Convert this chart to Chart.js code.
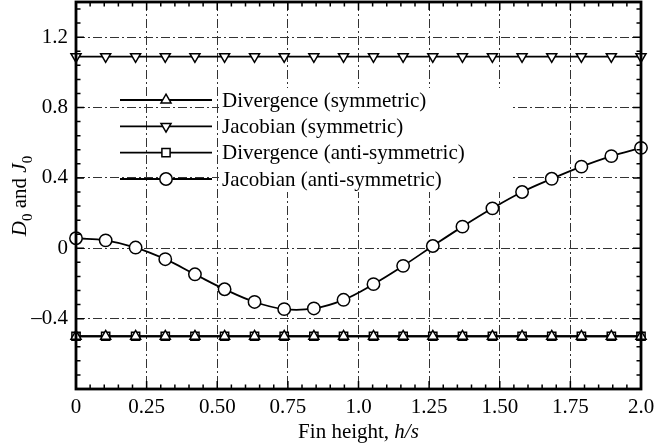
<!DOCTYPE html>
<html><head><meta charset="utf-8">
<script src="https://cdn.jsdelivr.net/npm/chart.js@4"></script>
<style>html,body{margin:0;padding:0;background:#fff}#wrap{width:656px;height:447px}</style>
</head><body><div id="wrap"><canvas id="c" width="656" height="447"></canvas></div>
<script>
const finHeight = [0, 0.105, 0.211, 0.316, 0.421, 0.526, 0.632, 0.737, 0.842, 0.947, 1.053, 1.158, 1.263, 1.368, 1.474, 1.579, 1.684, 1.789, 1.895, 2.0];
const divergenceSym = [-0.5,-0.5,-0.5,-0.5,-0.5,-0.5,-0.5,-0.5,-0.5,-0.5,-0.5,-0.5,-0.5,-0.5,-0.5,-0.5,-0.5,-0.5,-0.5,-0.5];
const jacobianSym = [1.09,1.09,1.09,1.09,1.09,1.09,1.09,1.09,1.09,1.09,1.09,1.09,1.09,1.09,1.09,1.09,1.09,1.09,1.09,1.09];
const divergenceAnti = [-0.5,-0.5,-0.5,-0.5,-0.5,-0.5,-0.5,-0.5,-0.5,-0.5,-0.5,-0.5,-0.5,-0.5,-0.5,-0.5,-0.5,-0.5,-0.5,-0.5];
const jacobianAnti = [0.057, 0.045, 0.004, -0.062, -0.148, -0.233, -0.305, -0.346, -0.342, -0.293, -0.204, -0.100, 0.013, 0.123, 0.227, 0.320, 0.395, 0.464, 0.524, 0.571];
const seriesNames = ['Divergence (symmetric)', 'Jacobian (symmetric)', 'Divergence (anti-symmetric)', 'Jacobian (anti-symmetric)'];
const xTickValues = [0, 0.25, 0.5, 0.75, 1, 1.25, 1.5, 1.75, 2];
const xTickLabels = ['0', '0.25', '0.50', '0.75', '1.0', '1.25', '1.50', '1.75', '2.0'];
const yTickValues = [-0.8, -0.4, 0, 0.4, 0.8, 1.2, 1.4];
const yTickLabels = ['', '\u20130.4', '0', '0.4', '0.8', '1.2', ''];

const FONT = 'Liberation Serif';
const pts = arr => arr.map((v, i) => ({x: finHeight[i], y: v}));

function marker(ctx, style, x, y, r) {
  ctx.beginPath();
  if (style === 'circle') {
    ctx.arc(x, y, r, 0, Math.PI * 2);
  } else if (style === 'triangle' || style === 'triangleDown') {
    const s = style === 'triangle' ? 1 : -1;
    for (let k = 0; k < 3; k++) {
      const a = k * 2 * Math.PI / 3;
      const px = x + Math.sin(a) * r, py = y - s * Math.cos(a) * r;
      if (k === 0) ctx.moveTo(px, py); else ctx.lineTo(px, py);
    }
    ctx.closePath();
  } else if (style === 'rect') {
    const h = r * Math.SQRT1_2;
    ctx.rect(x - h, y - h, 2 * h, 2 * h);
  }
  ctx.fillStyle = '#fff';
  ctx.fill();
  ctx.lineWidth = 1.5;
  ctx.strokeStyle = '#000';
  ctx.stroke();
}

const legendStyles = [['triangle', 5.8], ['triangleDown', 5.8], ['rect', 5.8], ['circle', 6.2]];

const framePlugin = {
  id: 'frame',
  beforeDatasetsDraw(chart) {
    const ctx = chart.ctx;
    ctx.save();
    ctx.fillStyle = '#fff';
    ctx.fillRect(219, 88, 293, 104);
    ctx.restore();
  },
  afterDatasetsDraw(chart) {
    const ctx = chart.ctx, a = chart.chartArea;
    const xs = chart.scales.x, ys = chart.scales.y;
    ctx.save();
    // legend
    const rowsY = [100, 126.3, 152.6, 179];
    ctx.font = '21px "' + FONT + '"';
    ctx.textBaseline = 'middle';
    ctx.textAlign = 'left';
    for (let i = 0; i < 4; i++) {
      const y = rowsY[i];
      ctx.beginPath();
      ctx.moveTo(120, y); ctx.lineTo(212, y);
      ctx.lineWidth = 1.8; ctx.strokeStyle = '#000'; ctx.stroke();
      marker(ctx, legendStyles[i][0], 166, y, legendStyles[i][1]);
      ctx.fillStyle = '#000';
      ctx.fillText(seriesNames[i], 222, y + 1);
    }
    // ticks (inward)
    ctx.strokeStyle = '#000';
    ctx.lineWidth = 1.5;
    ctx.beginPath();
    for (let k = 0; k <= 40; k++) {
      const v = k * 0.05;
      const px = xs.getPixelForValue(v);
      const len = (k % 5 === 0) ? 8 : 4.5;
      ctx.moveTo(px, a.bottom); ctx.lineTo(px, a.bottom - len);
      ctx.moveTo(px, a.top); ctx.lineTo(px, a.top + len);
    }
    for (let k = 0; k <= 27; k++) {
      const v = -0.8 + k * 0.08;
      const py = ys.getPixelForValue(v);
      const len = (k % 5 === 0) ? 8 : 4.5;
      ctx.moveTo(a.left, py); ctx.lineTo(a.left + len, py);
      ctx.moveTo(a.right, py); ctx.lineTo(a.right - len, py);
    }
    ctx.stroke();
    // frame
    ctx.lineWidth = 2.8;
    ctx.strokeRect(a.left, a.top, a.right - a.left, a.bottom - a.top);
    // axis titles
    ctx.fillStyle = '#000';
    ctx.textBaseline = 'alphabetic';
    const xParts = [['Fin height, ', false], ['h/s', true]];
    let w = 0;
    xParts.forEach(p => { ctx.font = (p[1] ? 'italic ' : '') + '21px "' + FONT + '"'; w += ctx.measureText(p[0]).width; });
    let cx = (a.left + a.right) / 2 - w / 2;
    xParts.forEach(p => { ctx.font = (p[1] ? 'italic ' : '') + '21px "' + FONT + '"'; ctx.fillText(p[0], cx, 438); cx += ctx.measureText(p[0]).width; });
    // y title rotated
    const yParts = [['D', 'i'], ['0', 's'], [' and ', 'n'], ['J', 'i'], ['0', 's']];
    const fontOf = t => t === 'i' ? 'italic 21px "' + FONT + '"' : (t === 's' ? '15px "' + FONT + '"' : '21px "' + FONT + '"');
    w = 0;
    yParts.forEach(p => { ctx.font = fontOf(p[1]); w += ctx.measureText(p[0]).width; });
    ctx.translate(26, 196);
    ctx.rotate(-Math.PI / 2);
    cx = -w / 2;
    yParts.forEach(p => { ctx.font = fontOf(p[1]); ctx.fillText(p[0], cx, p[1] === 's' ? 6 : 0); cx += ctx.measureText(p[0]).width; });
    ctx.restore();
  }
};

const lineDs = (label, data, style, r, tension) => ({
  label, data: pts(data), borderColor: '#000', borderWidth: 1.8, backgroundColor: '#fff',
  pointStyle: style, pointRadius: r, pointBorderWidth: 1.5, pointBackgroundColor: '#fff', pointBorderColor: '#000',
  pointRotation: 0, tension: tension, fill: false, clip: 8
});

const ds = [
  lineDs(seriesNames[0], divergenceSym, 'triangle', 5.8, 0),
  lineDs(seriesNames[2], divergenceAnti, 'rect', 5.8, 0),
  lineDs(seriesNames[1], jacobianSym, 'triangle', 5.8, 0),
  lineDs(seriesNames[3], jacobianAnti, 'circle', 6.2, 0.4)
];
ds[2].pointRotation = 180;

new Chart(document.getElementById('c'), {
  type: 'line',
  data: { datasets: ds },
  options: {
    responsive: false, animation: false, devicePixelRatio: 1,
    layout: { autoPadding: false, padding: { left: 0, right: 15, top: 2, bottom: 0 } },
    plugins: { legend: { display: false }, tooltip: { enabled: false }, title: { display: false } },
    scales: {
      x: {
        type: 'linear', min: 0, max: 2,
        afterBuildTicks: s => { s.ticks = xTickValues.map(v => ({ value: v })); },
        afterFit: s => { s.height = 58; s.paddingLeft = 0; s.paddingRight = 0; },
        ticks: { callback: (v, i) => xTickLabels[i], font: { family: FONT, size: 21 }, color: '#000', padding: 6, maxRotation: 0, autoSkip: false },
        grid: { color: '#333', lineWidth: 1, drawTicks: false },
        border: { display: false, dash: [9, 3, 2, 3] }
      },
      y: {
        type: 'linear', min: -0.8, max: 1.4,
        afterBuildTicks: s => { s.ticks = yTickValues.map(v => ({ value: v })); },
        afterFit: s => { s.width = 76; s.paddingTop = 0; s.paddingBottom = 0; },
        ticks: { callback: (v, i) => yTickLabels[i], font: { family: FONT, size: 21 }, color: '#000', padding: 8, autoSkip: false },
        grid: { color: '#333', lineWidth: 1, drawTicks: false },
        border: { display: false, dash: [9, 3, 2, 3] }
      }
    }
  },
  plugins: [framePlugin]
});
</script>
</body></html>
